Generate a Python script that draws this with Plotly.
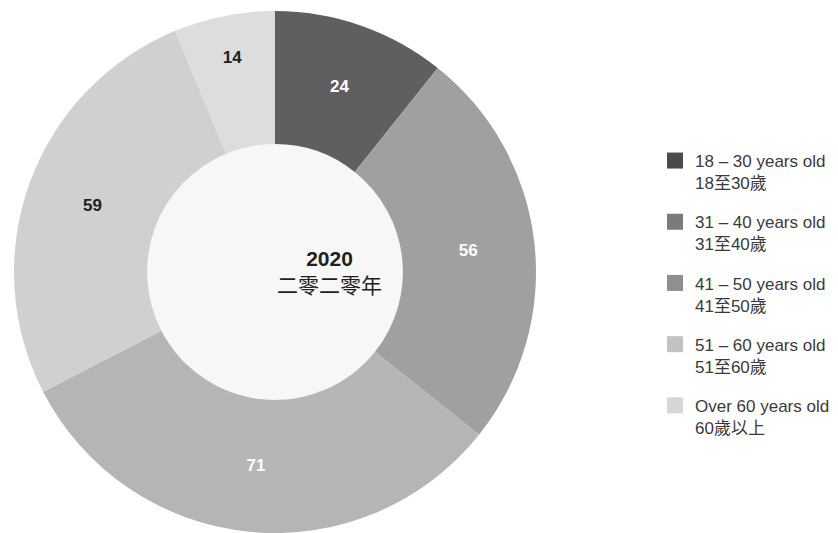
import plotly.graph_objects as go

# ---- data ----
age_groups_en = ["18 – 30 years old", "31 – 40 years old", "41 – 50 years old",
                 "51 – 60 years old", "Over 60 years old"]
age_groups_zh = ["18至30歲", "31至40歲", "41至50歲", "51至60歲", "60歲以上"]
staff_counts = [24, 56, 71, 59, 14]
slice_colors = ["#605e5e", "#a0a0a0", "#b4b5b5", "#cfd0d0", "#dcdddd"]
legend_colors = ["#4d4a4a", "#7b7979", "#8f8f8f", "#c1c2c2", "#d5d6d6"]
label_colors = ["#ffffff", "#ffffff", "#ffffff", "#231f20", "#231f20"]
center_year = "2020"
center_year_zh = "二零二零年"

# page body has an 8px margin, so the figure is sized to fit the 838x533 window
W, H = 830, 525
FONT = "Liberation Sans, Arial, Helvetica, Noto Sans CJK TC, sans-serif"

labels = [f"{en}<br>{zh}" for en, zh in zip(age_groups_en, age_groups_zh)]

fig = go.Figure()

fig.add_trace(go.Pie(
    labels=labels,
    values=staff_counts,
    hole=0.49,
    sort=False,
    direction="clockwise",
    rotation=0,
    marker=dict(colors=slice_colors, line=dict(width=0)),
    textinfo="value",
    textposition="inside",
    insidetextorientation="horizontal",
    insidetextfont=dict(family=FONT, size=17, color=label_colors, weight="bold"),
    domain=dict(x=[6 / W, 528 / W], y=[0, (H - 3) / H]),
    showlegend=False,
    hoverinfo="label+value",
))

# legend-only entries
for i, (lab, col) in enumerate(zip(labels, legend_colors)):
    fig.add_trace(go.Scatter(
        x=[None], y=[None], mode="markers", name=lab,
        marker=dict(symbol="square", size=16, color=col),
        legendgroup=f"g{i}", showlegend=True,
    ))

# light inner disc
cx, cy, rh = 267, 264, 128
fig.add_shape(type="circle", xref="paper", yref="paper",
              x0=(cx - rh) / W, x1=(cx + rh) / W,
              y0=(H - cy - rh) / H, y1=(H - cy + rh) / H,
              fillcolor="#f7f7f7", line=dict(width=0), layer="below")

fig.add_annotation(
    x=cx / W, y=(H - cy) / H, xref="paper", yref="paper",
    text=f"<b>{center_year}</b><br>{center_year_zh}",
    showarrow=False, align="center",
    font=dict(family="Liberation Sans, Arial, Noto Sans CJK TC, sans-serif", size=21, color="#231f20"),
)

fig.update_layout(
    width=W, height=H,
    margin=dict(l=0, r=0, t=0, b=0),
    paper_bgcolor="#ffffff",
    plot_bgcolor="rgba(0,0,0,0)",
    xaxis=dict(visible=False),
    yaxis=dict(visible=False),
    legend=dict(
        x=647 / W, y=(H - 135) / H, xanchor="left", yanchor="top",
        font=dict(family=FONT, size=17, color="#3a3a3a"),
        tracegroupgap=14, valign="top", itemsizing="trace",
        bgcolor="rgba(0,0,0,0)",
    ),
    showlegend=True,
)

fig.write_html("out.html")
